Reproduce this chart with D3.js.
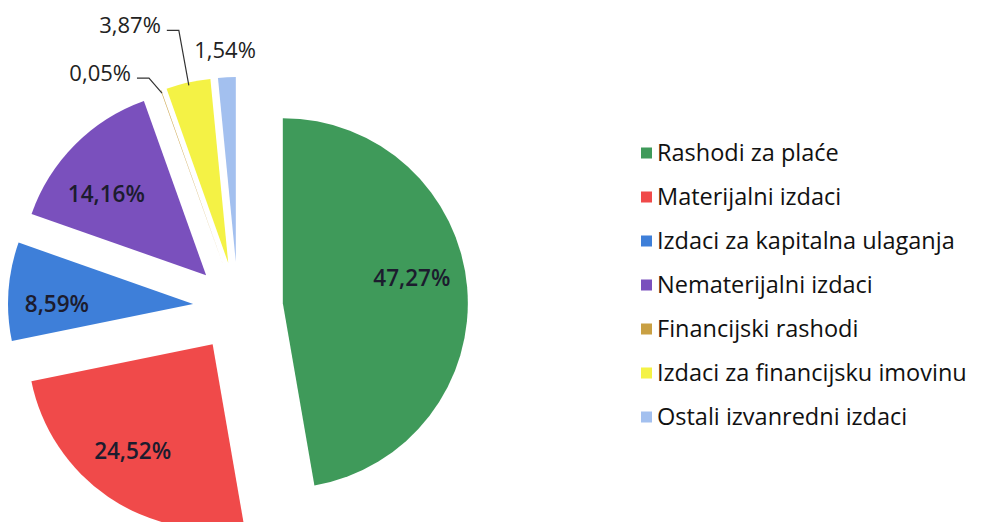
<!DOCTYPE html>
<html>
<head>
<meta charset="utf-8">
<script src="https://cdn.jsdelivr.net/npm/d3@7"></script>
<style>
  body { margin: 0; background: #fff; }
  text { font-family: "Open Sans", Lato, sans-serif; }
</style>
</head>
<body>
<script>
// data
var categories = ["Rashodi za plaće", "Materijalni izdaci", "Izdaci za kapitalna ulaganja",
                  "Nematerijalni izdaci", "Financijski rashodi", "Izdaci za financijsku imovinu",
                  "Ostali izvanredni izdaci"];
var values = [47.27, 24.52, 8.59, 14.16, 0.05, 3.87, 1.54];
var labels = ["47,27%", "24,52%", "8,59%", "14,16%", "0,05%", "3,87%", "1,54%"];
var colors = ["#3f9a5a", "#f04a4a", "#3e7fd9", "#7a50bd", "#c9a043", "#f4f245", "#a3c0ef"];

var width = 982, height = 522;
var cx = 238, cy = 307, radius = 185, explode = 45;

var svg = d3.select("body").append("svg")
    .attr("width", width)
    .attr("height", height);

var pie = d3.pie().sort(null).value(function(d) { return d; });
var arcs = pie(values);

var arc = d3.arc().innerRadius(0).outerRadius(radius);
var labelArc = d3.arc().innerRadius(radius * 0.7).outerRadius(radius * 0.7);

function shift(d) {
  var a = (d.startAngle + d.endAngle) / 2;
  return [Math.sin(a) * explode, -Math.cos(a) * explode];
}

var g = svg.append("g")
    .attr("transform", "translate(" + cx + "," + cy + ")");

var slice = g.selectAll(".slice")
    .data(arcs)
    .enter().append("g")
    .attr("class", "slice")
    .attr("transform", function(d) { var s = shift(d); return "translate(" + s[0] + "," + s[1] + ")"; });

slice.append("path")
    .attr("d", arc)
    .style("fill", function(d, i) { return colors[i]; });

// small nudges of the inside labels (layout only)
var nudge = { 0: [0, -14], 1: [-7, 0], 2: [-7, 9], 3: [-8, 10] };

slice.filter(function(d) { return d.value > 5; })
  .append("text")
    .attr("transform", function(d) {
      var c = labelArc.centroid(d), n = nudge[d.index];
      return "translate(" + (c[0] + n[0]) + "," + (c[1] + n[1]) + ")";
    })
    .attr("dy", ".35em")
    .style("text-anchor", "middle")
    .style("font-size", "22.5px")
    .style("font-weight", "600")
    .style("fill", "#1c1c2e")
    .text(function(d) { return labels[d.index]; });

// small slices: labels outside, offsets from the slice rim (layout only)
var outside = { 4: {dx: -31, dy: -15, elbow: 18, line: true},
                5: {dx: -28, dy: -55, elbow: 18, line: true},
                6: {dx: -2, dy: -22, elbow: 0, line: false} };

slice.filter(function(d) { return d.value <= 5; }).each(function(d) {
  var o = outside[d.index];
  var a = (d.startAngle + d.endAngle) / 2;
  var px = Math.sin(a) * (radius - 3), py = -Math.cos(a) * (radius - 3);
  var sel = d3.select(this);
  if (o.line) {
    sel.append("polyline")
        .attr("points", [[px, py], [px + o.dx + o.elbow, py + o.dy], [px + o.dx + 6, py + o.dy]].join(" "))
        .style("fill", "none")
        .style("stroke", "#333")
        .style("stroke-width", 1.2);
    sel.append("text")
        .attr("x", px + o.dx)
        .attr("y", py + o.dy - 5)
        .attr("dy", ".35em")
        .style("text-anchor", "end")
        .style("font-size", "22px")
        .style("fill", "#222")
        .text(labels[d.index]);
  } else {
    sel.append("text")
        .attr("x", px + o.dx)
        .attr("y", py + o.dy)
        .style("text-anchor", "middle")
        .style("font-size", "22px")
        .style("fill", "#222")
        .text(labels[d.index]);
  }
});

// legend
var legend = svg.selectAll(".legend")
    .data(categories)
    .enter().append("g")
    .attr("class", "legend")
    .attr("transform", function(d, i) { return "translate(641," + (153 + i * 44) + ")"; });

legend.append("rect")
    .attr("x", 0)
    .attr("y", -5.5)
    .attr("width", 11)
    .attr("height", 11)
    .style("fill", function(d, i) { return colors[i]; });

legend.append("text")
    .attr("x", 16)
    .attr("dy", ".35em")
    .style("font-size", "23.5px")
    .style("fill", "#111")
    .text(function(d) { return d; });
</script>
</body>
</html>
